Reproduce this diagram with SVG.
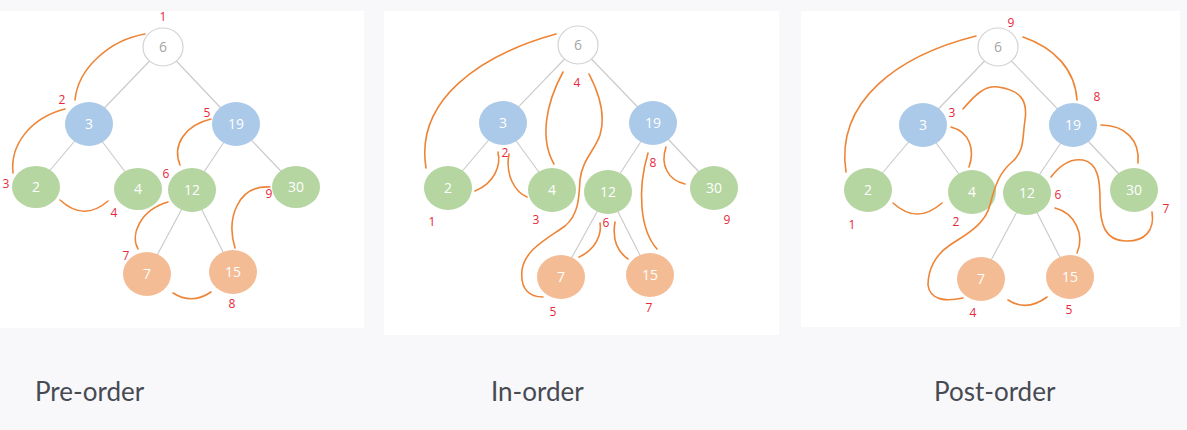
<svg xmlns="http://www.w3.org/2000/svg" width="1187" height="430" viewBox="0 0 1187 430">
<style>
.bg{fill:#f8f8fa}
.panel{fill:#ffffff}
.edge{stroke:#c9c9c9;stroke-width:1.1;fill:none}
.arc{stroke:#ee8436;stroke-width:1.6;fill:none;stroke-linecap:round}
.root{fill:#ffffff;stroke:#d2d2d2;stroke-width:1.2}
.blue{fill:#abc9e8}
.green{fill:#b5d5a1}
.orange{fill:#f4bc95}
.nt{font-family:"Open Sans","Noto Sans",sans-serif;font-size:14px;fill:#ffffff;text-anchor:middle}
.rt{font-family:"Open Sans","Noto Sans",sans-serif;font-size:14px;fill:#a6a6a6;text-anchor:middle}
.num{font-family:"Open Sans","Noto Sans",sans-serif;font-size:12px;fill:#e8283a;text-anchor:middle}
.cap{font-family:Lato,"Noto Sans",sans-serif;font-size:26px;fill:#474a52}
</style>
<rect class="bg" x="0" y="0" width="1187" height="430"/>
<rect class="panel" x="0" y="11" width="364" height="317"/>
<rect class="panel" x="384" y="11" width="395" height="324"/>
<rect class="panel" x="801" y="11" width="379" height="316"/>

<!-- Pre-order tree -->
<g id="pre-edges" class="connectors">
<line class="edge" x1="163" y1="47" x2="89" y2="124"/>
<line class="edge" x1="163" y1="47" x2="236" y2="124"/>
<line class="edge" x1="89" y1="124" x2="36" y2="187"/>
<line class="edge" x1="89" y1="124" x2="138" y2="189"/>
<line class="edge" x1="236" y1="124" x2="192" y2="190"/>
<line class="edge" x1="236" y1="124" x2="296" y2="187"/>
<line class="edge" x1="192" y1="190" x2="147" y2="274"/>
<line class="edge" x1="192" y1="190" x2="233" y2="272"/>
</g>
<g id="pre-n6"><ellipse class="root" cx="163" cy="47" rx="20" ry="19"/><text class="rt" x="163" y="52">6</text></g>
<g id="pre-n3"><ellipse class="blue" cx="89" cy="124" rx="24" ry="22"/><text class="nt" x="89" y="129">3</text></g>
<g id="pre-n19"><ellipse class="blue" cx="236" cy="124" rx="24" ry="22"/><text class="nt" x="236" y="129">19</text></g>
<g id="pre-n2"><ellipse class="green" cx="36" cy="187" rx="24" ry="21"/><text class="nt" x="36" y="192">2</text></g>
<g id="pre-n4"><ellipse class="green" cx="138" cy="189" rx="24" ry="21"/><text class="nt" x="138" y="194">4</text></g>
<g id="pre-n12"><ellipse class="green" cx="192" cy="190" rx="24" ry="22"/><text class="nt" x="192" y="195">12</text></g>
<g id="pre-n30"><ellipse class="green" cx="296" cy="187" rx="24" ry="21"/><text class="nt" x="296" y="192">30</text></g>
<g id="pre-n7"><ellipse class="orange" cx="147" cy="274" rx="24" ry="22"/><text class="nt" x="147" y="279">7</text></g>
<g id="pre-n15"><ellipse class="orange" cx="233" cy="272" rx="24" ry="22"/><text class="nt" x="233" y="277">15</text></g>
<g id="pre-path" class="connectors">
<path class="arc" d="M145,34 C110,40 78,68 75,100"/>
<path class="arc" d="M65,109 C30,118 10,145 13,173"/>
<path class="arc" d="M60,200 Q84,222 108,201"/>
<path class="arc" d="M211,119 C185,125 172,145 180,165"/>
<path class="arc" d="M168,202 C140,210 130,235 138,249"/>
<path class="arc" d="M173,293 Q192,305 211,292"/>
<path class="arc" d="M235,248 C226,218 238,185 270,187"/>
</g>
<g id="pre-labels">
<text class="num" x="163" y="21">1</text>
<text class="num" x="62" y="104">2</text>
<text class="num" x="6" y="188">3</text>
<text class="num" x="114" y="217">4</text>
<text class="num" x="207" y="117">5</text>
<text class="num" x="166" y="178">6</text>
<text class="num" x="126" y="260">7</text>
<text class="num" x="232" y="308">8</text>
<text class="num" x="269" y="198">9</text>
</g>

<!-- In-order tree -->
<g id="in-edges" class="connectors">
<line class="edge" x1="578" y1="45" x2="503" y2="123"/>
<line class="edge" x1="578" y1="45" x2="653" y2="123"/>
<line class="edge" x1="503" y1="123" x2="448" y2="188"/>
<line class="edge" x1="503" y1="123" x2="552" y2="190"/>
<line class="edge" x1="653" y1="123" x2="608" y2="192"/>
<line class="edge" x1="653" y1="123" x2="714" y2="188"/>
<line class="edge" x1="608" y1="192" x2="561" y2="277"/>
<line class="edge" x1="608" y1="192" x2="650" y2="275"/>
</g>
<g id="in-n6"><ellipse class="root" cx="578" cy="45" rx="20" ry="19"/><text class="rt" x="578" y="50">6</text></g>
<g id="in-n3"><ellipse class="blue" cx="503" cy="123" rx="24" ry="22"/><text class="nt" x="503" y="128">3</text></g>
<g id="in-n19"><ellipse class="blue" cx="653" cy="123" rx="24" ry="22"/><text class="nt" x="653" y="128">19</text></g>
<g id="in-n2"><ellipse class="green" cx="448" cy="188" rx="24" ry="22"/><text class="nt" x="448" y="193">2</text></g>
<g id="in-n4"><ellipse class="green" cx="552" cy="190" rx="24" ry="22"/><text class="nt" x="552" y="195">4</text></g>
<g id="in-n12"><ellipse class="green" cx="608" cy="192" rx="24" ry="22"/><text class="nt" x="608" y="197">12</text></g>
<g id="in-n30"><ellipse class="green" cx="714" cy="188" rx="24" ry="22"/><text class="nt" x="714" y="193">30</text></g>
<g id="in-n7"><ellipse class="orange" cx="561" cy="277" rx="24" ry="22"/><text class="nt" x="561" y="282">7</text></g>
<g id="in-n15"><ellipse class="orange" cx="650" cy="275" rx="24" ry="22"/><text class="nt" x="650" y="280">15</text></g>
<g id="in-path" class="connectors">
<path class="arc" d="M556,34 C480,55 415,100 426,168"/>
<path class="arc" d="M475,191 C495,183 501,165 498,152"/>
<path class="arc" d="M509,154 C505,175 515,192 527,197"/>
<path class="arc" d="M563,72 C545,105 540,140 554,164"/>
<path class="arc" d="M589,74 C600,95 606,115 600,135 C595,150 582,160 580,180 C579,200 578,215 565,226 C545,240 525,250 522,270 C520,290 530,297 543,297"/>
<path class="arc" d="M579,257 C595,250 602,235 600,223"/>
<path class="arc" d="M615,222 C612,240 618,252 628,259"/>
<path class="arc" d="M648,153 C637,190 640,230 657,249"/>
<path class="arc" d="M666,147 C660,165 668,180 685,184"/>
</g>
<g id="in-labels">
<text class="num" x="432" y="226">1</text>
<text class="num" x="505" y="157">2</text>
<text class="num" x="536" y="224">3</text>
<text class="num" x="577" y="87">4</text>
<text class="num" x="553" y="316">5</text>
<text class="num" x="606" y="227">6</text>
<text class="num" x="649" y="312">7</text>
<text class="num" x="653" y="167">8</text>
<text class="num" x="727" y="224">9</text>
</g>

<!-- Post-order tree -->
<g id="post-edges" class="connectors">
<line class="edge" x1="998" y1="47" x2="923" y2="125"/>
<line class="edge" x1="998" y1="47" x2="1073" y2="125"/>
<line class="edge" x1="923" y1="125" x2="868" y2="190"/>
<line class="edge" x1="923" y1="125" x2="972" y2="192"/>
<line class="edge" x1="1073" y1="125" x2="1027" y2="193"/>
<line class="edge" x1="1073" y1="125" x2="1134" y2="190"/>
<line class="edge" x1="1027" y1="193" x2="981" y2="279"/>
<line class="edge" x1="1027" y1="193" x2="1070" y2="277"/>
</g>
<g id="post-n6"><ellipse class="root" cx="998" cy="47" rx="20" ry="19"/><text class="rt" x="998" y="52">6</text></g>
<g id="post-n3"><ellipse class="blue" cx="923" cy="125" rx="24" ry="22"/><text class="nt" x="923" y="130">3</text></g>
<g id="post-n19"><ellipse class="blue" cx="1073" cy="125" rx="24" ry="22"/><text class="nt" x="1073" y="130">19</text></g>
<g id="post-n2"><ellipse class="green" cx="868" cy="190" rx="24" ry="22"/><text class="nt" x="868" y="195">2</text></g>
<g id="post-n4"><ellipse class="green" cx="972" cy="192" rx="24" ry="22"/><text class="nt" x="972" y="197">4</text></g>
<g id="post-n12"><ellipse class="green" cx="1027" cy="193" rx="24" ry="22"/><text class="nt" x="1027" y="198">12</text></g>
<g id="post-n30"><ellipse class="green" cx="1134" cy="190" rx="24" ry="22"/><text class="nt" x="1134" y="195">30</text></g>
<g id="post-n7"><ellipse class="orange" cx="981" cy="279" rx="24" ry="22"/><text class="nt" x="981" y="284">7</text></g>
<g id="post-n15"><ellipse class="orange" cx="1070" cy="277" rx="24" ry="22"/><text class="nt" x="1070" y="282">15</text></g>
<g id="post-path" class="connectors">
<path class="arc" d="M976,36 C900,55 835,100 846,172"/>
<path class="arc" d="M893,203 Q917,225 942,203"/>
<path class="arc" d="M951,127 C970,132 975,150 969,167"/>
<path class="arc" d="M963,109 C975,95 985,85 998,87 C1020,90 1028,100 1025,120 C1022,140 1025,150 1012,162 C1000,172 995,185 990,205 C985,225 965,235 950,245 C935,255 928,270 928,285 C930,300 945,302 963,298"/>
<path class="arc" d="M1008,300 Q1027,312 1047,297"/>
<path class="arc" d="M1055,208 C1075,213 1085,235 1077,253"/>
<path class="arc" d="M1051,177 C1060,165 1070,158 1083,160 C1098,163 1100,180 1100,200 C1100,225 1105,240 1125,241 C1145,242 1155,230 1152,212"/>
<path class="arc" d="M1101,125 C1125,125 1140,140 1138,163"/>
<path class="arc" d="M1023,37 C1055,48 1075,70 1077,100"/>
</g>
<g id="post-labels">
<text class="num" x="852" y="229">1</text>
<text class="num" x="956" y="226">2</text>
<text class="num" x="952" y="117">3</text>
<text class="num" x="973" y="317">4</text>
<text class="num" x="1069" y="314">5</text>
<text class="num" x="1058" y="199">6</text>
<text class="num" x="1166" y="213">7</text>
<text class="num" x="1097" y="101">8</text>
<text class="num" x="1011" y="27">9</text>
</g>

<g id="captions">
<text class="cap" x="35" y="401">Pre-order</text>
<text class="cap" x="491" y="401">In-order</text>
<text class="cap" x="934" y="401">Post-order</text>
</g>
</svg>
